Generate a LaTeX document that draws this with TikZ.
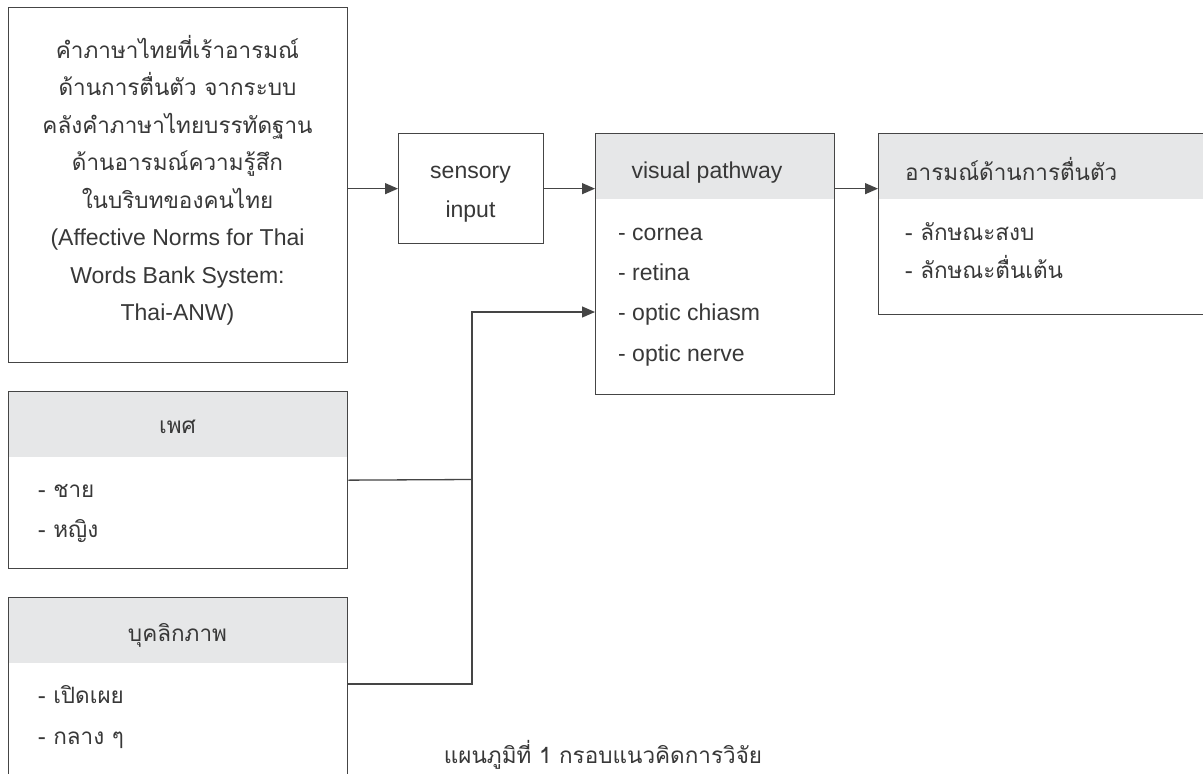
\documentclass[tikz,border=0pt]{standalone}
\usepackage{fontspec}
\setmainfont{Liberation Sans}
\newfontfamily\thai[Script=Thai]{Loma}
\usetikzlibrary{arrows.meta}
\definecolor{txt}{HTML}{383838}
\definecolor{ln}{HTML}{454545}
\definecolor{hd}{HTML}{E6E7E8}
\begin{document}
\begin{tikzpicture}[x=1pt,y=-1pt,
  box/.style={draw=ln, line width=1.3pt, anchor=north west, inner sep=0pt},
  headbox/.style={box, path picture={\fill[hd] (path picture bounding box.north west) rectangle ([yshift=-65pt]path picture bounding box.north east);}},
  lat/.style={font=\fontsize{23}{28}\selectfont, text=txt, inner sep=0pt, anchor=base},
  th/.style={font=\thai\fontsize{22.5}{28}\selectfont, text=txt, inner sep=0pt, anchor=base},
  thw/.style={th, anchor=base west},
  latw/.style={lat, anchor=base west},
  conn/.style={draw=ln, line width=1.3pt},
  arr/.style={conn, -{Triangle[length=13pt,width=11pt]}}
]
\useasboundingbox (0,0) rectangle (1203,774);
\clip (0,0) rectangle (1203,774);
\fill[white] (0,0) rectangle (1203,774);

% boxes
\node[box, minimum width=339pt, minimum height=355pt] (A) at (8,7) {};
\node[box, minimum width=145pt, minimum height=110pt] (S) at (398,133) {};
\node[headbox, minimum width=239pt, minimum height=261pt] (V) at (595,133) {};
\node[headbox, minimum width=352pt, minimum height=181pt] (E) at (878,133) {};
\node[headbox, minimum width=339pt, minimum height=177pt] (G) at (8,391) {};
\node[headbox, minimum width=339pt, minimum height=250pt] (P) at (8,597) {};

% box A text
\node[th] (a1) at (177.5,58) {คำภาษาไทยที่เร้าอารมณ์};
\node[th] (a2) at (177.5,95.5) {ด้านการตื่นตัว จากระบบ};
\node[th] (a3) at (177.5,133) {คลังคำภาษาไทยบรรทัดฐาน};
\node[th] (a4) at (177.5,170.5) {ด้านอารมณ์ความรู้สึก};
\node[th] (a5) at (177.5,208) {ในบริบทของคนไทย};
\node[lat] (a6) at (177.5,245.5) {(Affective Norms for Thai};
\node[lat] (a7) at (177.5,283) {Words Bank System:};
\node[lat] (a8) at (177.5,320.5) {Thai-ANW)};

% sensory input
\node[lat] (s1) at (470.5,178) {sensory};
\node[lat] (s2) at (470.5,217) {input};

% visual pathway
\node[lat] (v0) at (707,178) {visual pathway};
\node[latw] (v1) at (618,240) {- cornea};
\node[latw] (v2) at (618,280) {- retina};
\node[latw] (v3) at (618,320) {- optic chiasm};
\node[latw] (v4) at (618,361) {- optic nerve};

% arousal
\node[thw] (e0) at (905,180) {อารมณ์ด้านการตื่นตัว};
\node[thw] (e1) at (905,240) {- ลักษณะสงบ};
\node[thw] (e2) at (905,278) {- ลักษณะตื่นเต้น};

% gender
\node[th] (g0) at (177.5,433) {เพศ};
\node[thw] (g1) at (38,497) {- ชาย};
\node[thw] (g2) at (38,537) {- หญิง};

% personality
\node[th] (p0) at (177.5,641) {บุคลิกภาพ};
\node[thw] (p1) at (38,703) {- เปิดเผย};
\node[thw] (p2) at (38,744) {- กลาง ๆ};

% caption
\node[th] (cap) at (603,763) {แผนภูมิที่ 1 กรอบแนวคิดการวิจัย};

% connectors
\coordinate (j1) at (472,312);
\coordinate (j2) at (472,684);
\coordinate (jg) at (472,479.5);
\draw[arr] (A.east |- S.west) -- (S.west);
\draw[arr] (S.east) -- (V.west |- S.east);
\draw[arr] (V.east |- S.east) -- (E.west |- S.east);
\draw[conn] (G.east) -- (jg);
\draw[arr] (j2 -| P.east) -- (j2) -- (j1) -- (V.west |- j1);
\end{tikzpicture}
\end{document}
